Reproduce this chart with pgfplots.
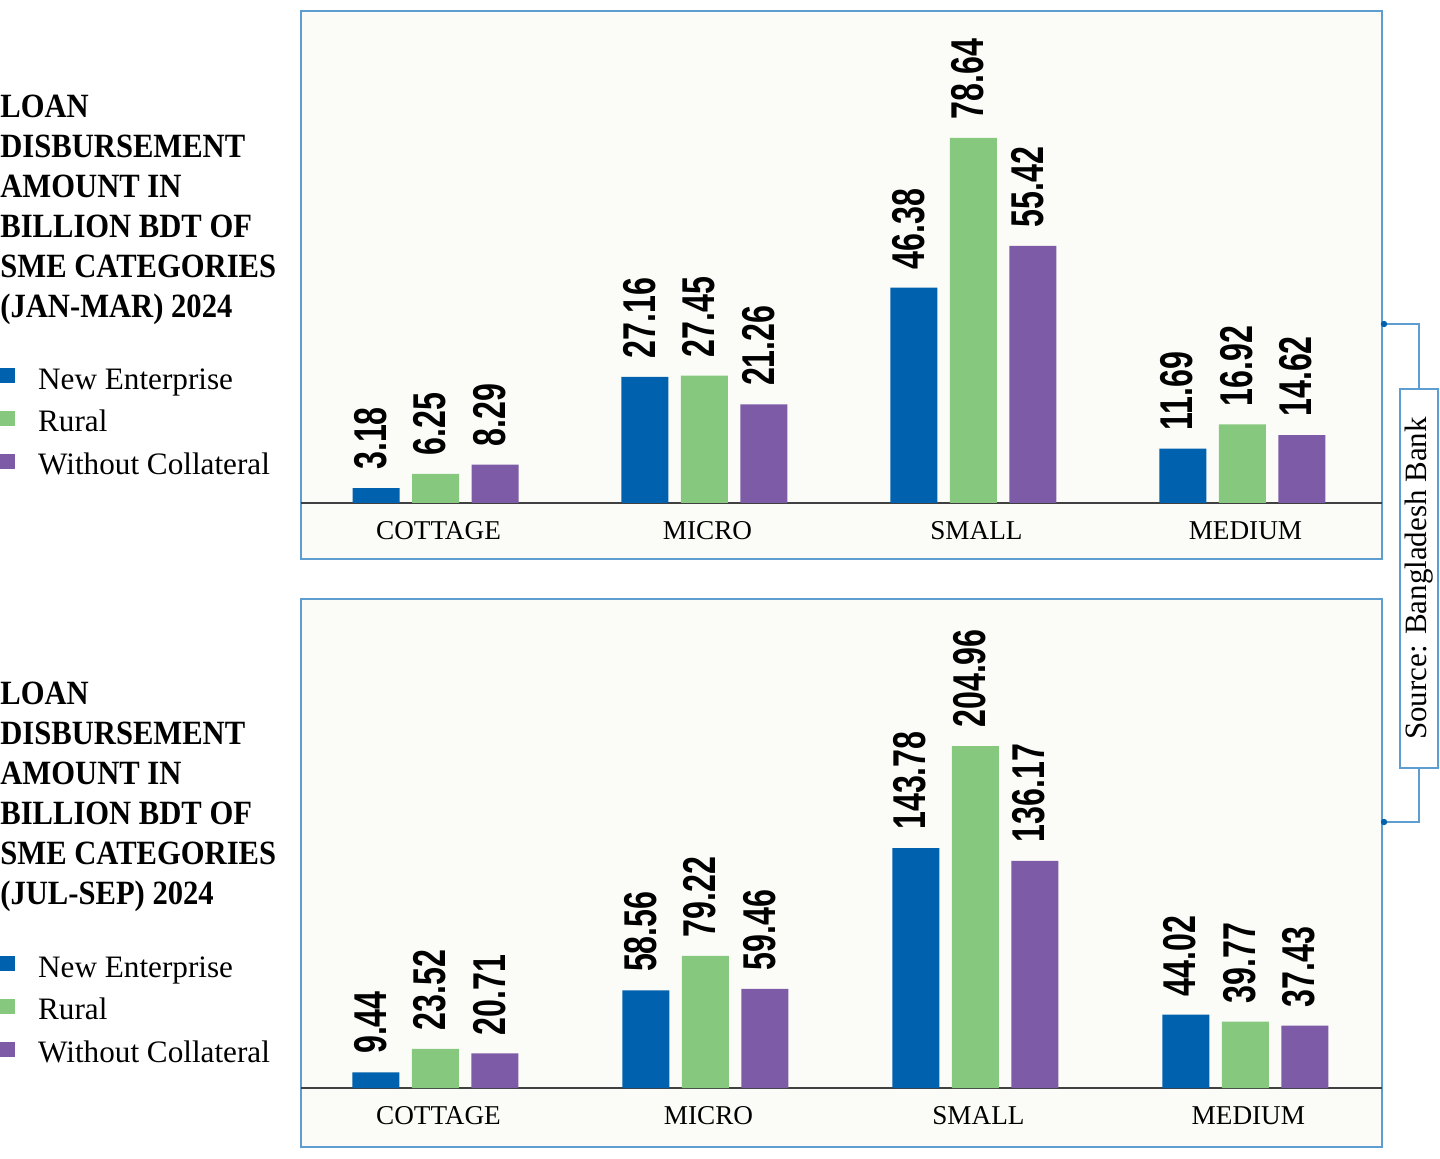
\documentclass[border=0pt]{standalone}
\usepackage{fontspec}
\usepackage{pgfplots}
\pgfplotsset{compat=1.18}
\setmainfont{Liberation Serif}
\newfontfamily\valfont{Liberation Sans}[FakeStretch=0.7]
\newfontfamily\titlefont{Liberation Serif}[FakeStretch=0.9]

\definecolor{neblue}{HTML}{0061AF}
\definecolor{rurgreen}{HTML}{86C87E}
\definecolor{wcpurple}{HTML}{7D5BA6}
\definecolor{framecol}{HTML}{5E9DD0}
\definecolor{panelbg}{HTML}{FBFCF7}

\pgfplotsset{
  smechart/.style={
    scale only axis, width=540.75pt, height=274pt,
    ybar=6.25pt, bar width=23.5pt,
    xtick={0,1,2,3}, xticklabels={COTTAGE,MICRO,SMALL,MEDIUM},
    major tick length=0pt,
    ytick=\empty,
    extra y ticks={0}, extra y tick labels={},
    extra y tick style={grid=major, major grid style={draw=black!75, line width=0.6pt}},
    axis line style={draw=framecol, line width=1pt},
    axis background/.style={fill=panelbg},
    clip=false,
    nodes near coords,
    every node near coord/.append style={rotate=90, anchor=west, inner xsep=9pt, inner ysep=0pt,
      text depth=6pt, font=\valfont\bfseries\fontsize{23}{23}\selectfont, text=black},
    /pgf/number format/fixed, /pgf/number format/fixed zerofill,
    /pgf/number format/precision=2, /pgf/number format/assume math mode=true,
    legend style={at={(axis description cs:-0.2777,0.3485)}, anchor=north west,
      draw=none, fill=none, inner sep=0pt, outer sep=0pt, row sep=7.4pt,
      nodes={inner sep=0pt, text height=10.5pt, text depth=3.5pt},
      font=\fontsize{15.6}{18}\selectfont},
    legend cell align=left,
    legend image code/.code={\fill[##1] (0pt,-0.5pt) rectangle (7.5pt,7pt); \path (19pt,0pt);},
  },
}

\begin{document}
\begin{tikzpicture}[x=0.5pt, y=-0.5pt]
\path[use as bounding box] (0,0) rectangle (1440,1158);

% Jan-Mar 2024
\node[anchor=north west, inner sep=0pt, align=left,
  font=\titlefont\bfseries\fontsize{17}{20}\selectfont] at (0,95)
  {LOAN\\DISBURSEMENT\\AMOUNT IN\\BILLION BDT OF\\SME CATEGORIES\\(JAN-MAR) 2024};

\begin{axis}[smechart, at={(150.25pt,-279.5pt)}, anchor=south west,
  xmin=-0.502, xmax=3.519, ymin=-12.07, ymax=106.0,
  xticklabel style={anchor=base, yshift=10pt, xshift=1.5pt, font=\fontsize{13.6}{16}\selectfont}]
\addplot[fill=neblue, draw=none] coordinates {(0,3.18) (1,27.16) (2,46.38) (3,11.69)};
\addplot[fill=rurgreen, draw=none] coordinates {(0,6.25) (1,27.45) (2,78.64) (3,16.92)};
\addplot[fill=wcpurple, draw=none] coordinates {(0,8.29) (1,21.26) (2,55.42) (3,14.62)};
\legend{New Enterprise, Rural, Without Collateral}
\end{axis}

% Jul-Sep 2024
\node[anchor=north west, inner sep=0pt, align=left,
  font=\titlefont\bfseries\fontsize{17}{20}\selectfont] at (0,682)
  {LOAN\\DISBURSEMENT\\AMOUNT IN\\BILLION BDT OF\\SME CATEGORIES\\(JUL-SEP) 2024};

\begin{axis}[smechart, at={(150.25pt,-573.5pt)}, anchor=south west,
  xmin=-0.5, xmax=3.506, ymin=-35.36, ymax=293.1,
  xticklabel style={anchor=base, yshift=11.5pt, xshift=1.5pt, font=\fontsize{13.6}{16}\selectfont}]
\addplot[fill=neblue, draw=none] coordinates {(0,9.44) (1,58.56) (2,143.78) (3,44.02)};
\addplot[fill=rurgreen, draw=none] coordinates {(0,23.52) (1,79.22) (2,204.96) (3,39.77)};
\addplot[fill=wcpurple, draw=none] coordinates {(0,20.71) (1,59.46) (2,136.17) (3,37.43)};
\legend{New Enterprise, Rural, Without Collateral}
\end{axis}

% source bracket
\draw[framecol, line width=0.7pt] (1382,324) -| (1419,389);
\draw[framecol, line width=0.7pt] (1419,768) |- (1382,822);
\fill[neblue] (1384,324) circle (1.6pt);
\fill[neblue] (1384,822) circle (1.6pt);
\node[draw=framecol, line width=0.7pt, rotate=90, minimum width=189.5pt, minimum height=19pt,
  inner sep=0pt, font=\fontsize{15.5}{18}\selectfont] at (1419,578.5) {Source: Bangladesh Bank};
\end{tikzpicture}
\end{document}
